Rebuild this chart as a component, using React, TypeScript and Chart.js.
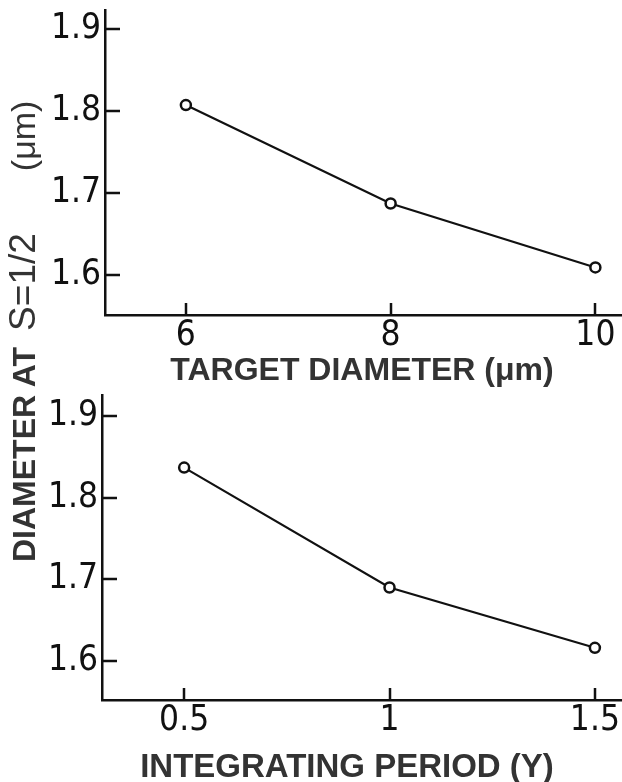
import React, { useEffect, useRef } from "react";
import { Chart, registerables } from "chart.js";

Chart.register(...registerables);

// ---- data ----
const targetDiameters = [6, 8, 10];
const diameterByTarget = [1.807, 1.687, 1.609];
const integratingPeriods = [0.5, 1, 1.5];
const diameterByPeriod = [1.837, 1.69, 1.616];
const yTickValues = [1.6, 1.7, 1.8, 1.9];
const targetTickValues = [6, 8, 10];
const periodTickValues = [0.5, 1, 1.5];

const INK = "#111";
const TITLE_INK = "#333";
const TICK_FONT = '"Liberation Sans Narrow", "Arial Narrow", "DejaVu Sans Condensed", "Liberation Sans", sans-serif';
const TITLE_FONT = '"Liberation Sans", Arial, Helvetica, sans-serif';

const inwardTicks = {
  id: "inwardTicks",
  afterDatasetsDraw(chart: any, _args: any, opts: any) {
    const { ctx, chartArea, scales } = chart;
    ctx.save();
    ctx.strokeStyle = INK;
    ctx.lineWidth = 2.5;
    ctx.beginPath();
    for (const v of opts.y || []) {
      const py = Math.round(scales.y.getPixelForValue(v));
      ctx.moveTo(chartArea.left, py);
      ctx.lineTo(chartArea.left + 15, py);
    }
    for (const v of opts.x || []) {
      const px = Math.round(scales.x.getPixelForValue(v));
      ctx.moveTo(px, chartArea.bottom);
      ctx.lineTo(px, chartArea.bottom - 12);
    }
    ctx.stroke();
    ctx.restore();
  },
};

type PanelProps = {
  xs: number[];
  ys: number[];
  xTicks: number[];
  xMin: number;
  xMax: number;
  yMin: number;
  yMax: number;
  width: number;
  height: number;
  padTop: number;
  yAxisWidth: number;
  xAxisHeight: number;
  top: number;
};

function Panel(p: PanelProps) {
  const ref = useRef<HTMLCanvasElement | null>(null);
  useEffect(() => {
    if (!ref.current) return;
    const chart = new Chart(ref.current, {
      type: "line",
      data: {
        datasets: [
          {
            data: p.xs.map((x, i) => ({ x, y: p.ys[i] })),
            borderColor: INK,
            borderWidth: 2.2,
            pointRadius: 5,
            pointBorderWidth: 2.5,
            pointBorderColor: INK,
            pointBackgroundColor: "#fff",
            tension: 0,
            fill: false,
          },
        ],
      },
      options: {
        responsive: false,
        animation: false,
        events: [],
        devicePixelRatio: 1,
        layout: { padding: { top: p.padTop, left: 0, right: 0, bottom: 0 }, autoPadding: false },
        plugins: {
          legend: { display: false },
          tooltip: { enabled: false },
          inwardTicks: { x: p.xTicks, y: yTickValues },
        } as any,
        scales: {
          x: {
            type: "linear",
            min: p.xMin,
            max: p.xMax,
            afterBuildTicks: (s: any) => {
              s.ticks = p.xTicks.map((v) => ({ value: v }));
            },
            afterFit: (s: any) => {
              s.height = p.xAxisHeight;
              s.paddingLeft = 0;
              s.paddingRight = 0;
            },
            grid: { display: false, drawTicks: false, drawOnChartArea: false },
            border: { display: true, color: INK, width: 2.5 },
            ticks: {
              color: INK,
              padding: 3,
              maxRotation: 0,
              autoSkip: false,
              font: { family: TICK_FONT, size: 35, lineHeight: 1 },
              callback: (v: any) => String(v),
            },
          },
          y: {
            type: "linear",
            min: p.yMin,
            max: p.yMax,
            afterBuildTicks: (s: any) => {
              s.ticks = yTickValues.map((v) => ({ value: v }));
            },
            afterFit: (s: any) => {
              s.width = p.yAxisWidth;
              s.paddingTop = 0;
              s.paddingBottom = 0;
            },
            grid: { display: false, drawTicks: false, drawOnChartArea: false },
            border: { display: true, color: INK, width: 2.5 },
            ticks: {
              color: INK,
              padding: 4,
              autoSkip: false,
              font: { family: TICK_FONT, size: 35, lineHeight: 1 },
              callback: (v: any) => Number(v).toFixed(1),
            },
          },
        },
      } as any,
      plugins: [inwardTicks],
    });
    return () => chart.destroy();
  }, []);
  return (
    <canvas
      ref={ref}
      width={p.width}
      height={p.height}
      style={{ position: "absolute", left: 0, top: p.top, width: p.width, height: p.height }}
    />
  );
}

export default function App() {
  return (
    <div
      style={{
        position: "absolute",
        left: 0,
        top: 0,
        width: 622,
        height: 782,
        background: "#fff",
        overflow: "hidden",
      }}
    >
      <Panel
        xs={targetDiameters}
        ys={diameterByTarget}
        xTicks={targetTickValues}
        xMin={5.21}
        xMax={10.26}
        yMin={1.551}
        yMax={1.923}
        width={622}
        height={390}
        padTop={10}
        yAxisWidth={105}
        xAxisHeight={75}
        top={0}
      />
      <Panel
        xs={integratingPeriods}
        ys={diameterByPeriod}
        xTicks={periodTickValues}
        xMin={0.3}
        xMax={1.566}
        yMin={1.552}
        yMax={1.926}
        width={622}
        height={392}
        padTop={5}
        yAxisWidth={102}
        xAxisHeight={82}
        top={390}
      />
      <div
        style={{
          position: "absolute",
          left: 62,
          top: 353,
          width: 600,
          textAlign: "center",
          whiteSpace: "nowrap",
          lineHeight: 1,
          fontFamily: TITLE_FONT,
          fontWeight: "bold",
          fontSize: 32,
          color: TITLE_INK,
        }}
      >
        TARGET DIAMETER (μm)
      </div>
      <div
        style={{
          position: "absolute",
          left: 47,
          top: 749,
          width: 600,
          textAlign: "center",
          whiteSpace: "nowrap",
          lineHeight: 1,
          fontFamily: TITLE_FONT,
          fontWeight: "bold",
          fontSize: 33,
          color: TITLE_INK,
        }}
      >
        INTEGRATING PERIOD (Y)
      </div>
      <div
        style={{
          position: "absolute",
          left: 4,
          top: 562,
          transformOrigin: "0 0",
          transform: "rotate(-90deg)",
          whiteSpace: "nowrap",
          lineHeight: 1,
          fontFamily: TITLE_FONT,
          fontSize: 32,
          color: TITLE_INK,
        }}
      >
        <span style={{ fontWeight: "bold" }}>DIAMETER AT</span>
        <span style={{ display: "inline-block", width: 16 }} />
        <span style={{ fontSize: 37 }}>S=1/2</span>
        <span style={{ display: "inline-block", width: 62 }} />
        <span style={{ fontSize: 34 }}>(μm)</span>
      </div>
    </div>
  );
}
